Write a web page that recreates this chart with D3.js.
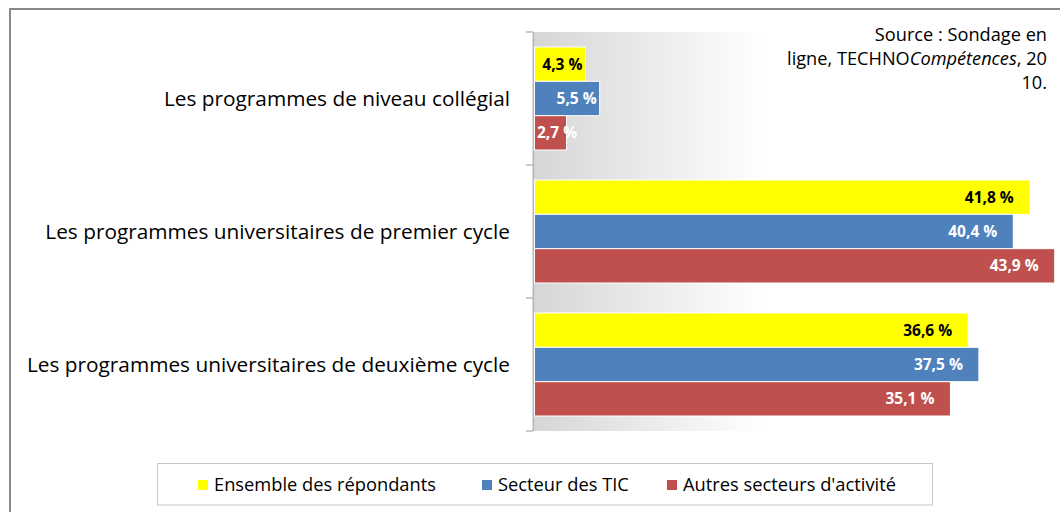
<!DOCTYPE html>
<html>
<head>
<meta charset="utf-8">
<script src="https://cdn.jsdelivr.net/npm/d3@7"></script>
<style>
  body { margin: 0; background: #fff; }
  svg { display: block; font-family: "Open Sans", Lato, sans-serif; }
</style>
</head>
<body>
<svg id="chart" width="1060" height="512"></svg>
<script>
// THE DATA
const categories = [
  "Les programmes de niveau collégial",
  "Les programmes universitaires de premier cycle",
  "Les programmes universitaires de deuxième cycle"
];
const seriesNames = ["Ensemble des répondants", "Secteur des TIC", "Autres secteurs d'activité"];
const ensemble = [4.3, 41.8, 36.6];
const secteurTIC = [5.5, 40.4, 37.5];
const autresSecteurs = [2.7, 43.9, 35.1];
const seriesColors = ["#ffff00", "#4f81bd", "#c0504d"];
const labelColors = ["#000000", "#ffffff", "#ffffff"];

const seriesValues = [ensemble, secteurTIC, autresSecteurs];

// SETUP
const svg = d3.select("#chart");
const fmt = v => d3.format(".1f")(v).replace(".", ",") + " %";

// outer chart border
svg.append("rect")
  .attr("x", 10).attr("y", 9)
  .attr("width", 1100).attr("height", 600)
  .attr("fill", "#fff")
  .attr("stroke", "#898989")
  .attr("stroke-width", 2);

const x = d3.scaleLinear().domain([0, 45]).range([534.5, 534.5 + 45 * 11.85]);
const y = d3.scaleBand().domain(categories).range([32, 431]);
const inner = d3.scaleBand().domain(seriesNames).range([15, 118]);

// plot area gradient
const defs = svg.append("defs");
const grad = defs.append("linearGradient").attr("id", "plotGrad")
  .attr("x1", "0%").attr("x2", "100%").attr("y1", "0%").attr("y2", "0%");
grad.append("stop").attr("offset", "0%").attr("stop-color", "#d6d6d6");
grad.append("stop").attr("offset", "100%").attr("stop-color", "#ffffff");

svg.append("rect")
  .attr("x", x(0)).attr("y", y.range()[0])
  .attr("width", 228).attr("height", y.range()[1] - y.range()[0])
  .attr("fill", "url(#plotGrad)");

// axis line + ticks at category boundaries
const axisG = svg.append("g").attr("stroke", "#b8b8b8");
axisG.append("line")
  .attr("x1", 533.5).attr("x2", 533.5)
  .attr("y1", y.range()[0]).attr("y2", y.range()[1])
  .attr("stroke-width", 2);
axisG.selectAll("line.tick")
  .data(d3.range(categories.length + 1))
  .join("line")
  .attr("class", "tick")
  .attr("x1", 526).attr("x2", 533)
  .attr("y1", i => y.range()[0] + i * y.step())
  .attr("y2", i => y.range()[0] + i * y.step())
  .attr("stroke-width", 1.5);

// category labels
svg.append("g").selectAll("text")
  .data(categories)
  .join("text")
  .attr("x", 510)
  .attr("y", d => y(d) + y.bandwidth() / 2 + 7)
  .attr("text-anchor", "end")
  .attr("font-size", 20.8)
  .attr("fill", "#000")
  .text(d => d);

// bars
const rows = [];
seriesNames.forEach((s, si) => {
  categories.forEach((c, ci) => {
    rows.push({ cat: c, series: s, si, value: seriesValues[si][ci] });
  });
});

svg.append("g").selectAll("rect")
  .data(rows)
  .join("rect")
  .attr("x", x(0))
  .attr("y", d => y(d.cat) + inner(d.series))
  .attr("width", d => x(d.value) - x(0))
  .attr("height", inner.bandwidth())
  .attr("fill", d => seriesColors[d.si])
  .attr("stroke", "#fff")
  .attr("stroke-width", 1);

// value labels (inside end)
const labels = svg.append("g").selectAll("text")
  .data(rows)
  .join("text")
  .attr("y", d => y(d.cat) + inner(d.series) + inner.bandwidth() / 2 + 5.5)
  .attr("font-size", 15.5)
  .attr("font-weight", "bold")
  .attr("fill", d => labelColors[d.si])
  .text(d => fmt(d.value));

labels.each(function(d) {
  const w = this.getComputedTextLength();
  const barW = x(d.value) - x(0);
  const inset = barW > 100 ? 16 : 3;
  const start = Math.max(x(0) + 2.5, x(d.value) - inset - w);
  d3.select(this).attr("x", start);
});

// source note
const src = svg.append("text")
  .attr("text-anchor", "end")
  .attr("font-size", 18.2)
  .attr("fill", "#000");
src.append("tspan").attr("x", 1047).attr("y", 41).text("Source : Sondage en");
const l2 = src.append("tspan").attr("x", 1047).attr("y", 65);
l2.append("tspan").text("ligne, TECHNO");
l2.append("tspan").attr("font-style", "italic").text("Compétences");
l2.append("tspan").text(", 20");
src.append("tspan").attr("x", 1047).attr("y", 89).text("10.");

// legend
const legend = svg.append("g");
legend.append("rect")
  .attr("x", 157.5).attr("y", 463.5)
  .attr("width", 775).attr("height", 41.5)
  .attr("fill", "#fff")
  .attr("stroke", "#c6c6c6");

const legendX = [198, 482, 667];
const item = legend.selectAll("g.item")
  .data(seriesNames)
  .join("g")
  .attr("class", "item")
  .attr("transform", (d, i) => `translate(${legendX[i]},480)`);
item.append("rect")
  .attr("width", 10).attr("height", 10)
  .attr("fill", (d, i) => seriesColors[i]);
item.append("text")
  .attr("x", 16).attr("y", 11)
  .attr("font-size", 18.3)
  .attr("fill", "#000")
  .text(d => d);
</script>
</body>
</html>
